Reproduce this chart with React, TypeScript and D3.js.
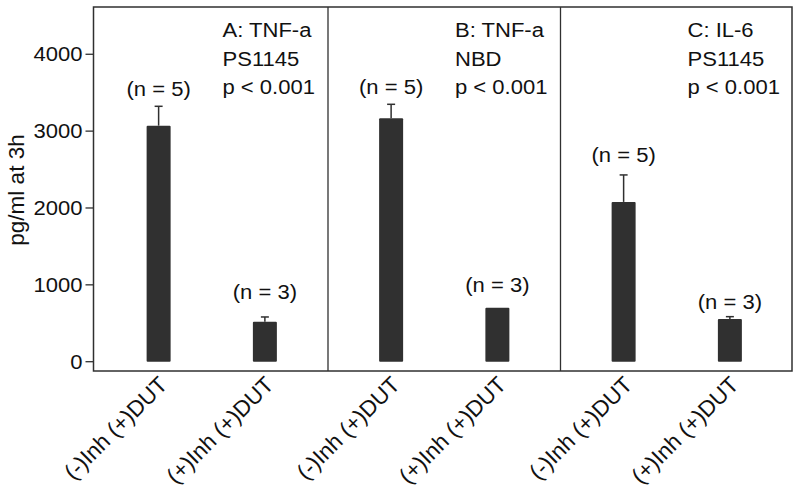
import React from "react";
import * as d3 from "d3";

const panels = ["A", "B", "C"];
const panelTitles = ["A: TNF-a", "B: TNF-a", "C: IL-6"];
const panelAgents = ["PS1145", "NBD", "PS1145"];
const panelP = ["p < 0.001", "p < 0.001", "p < 0.001"];
const categories = ["(-)Inh (+)DUT", "(+)Inh (+)DUT"];
const means = [
  [3071, 520],
  [3167, 703],
  [2079, 556],
];
const errors = [
  [252, 62],
  [182, 0],
  [351, 30],
];
const nLabels = [
  ["(n = 5)", "(n = 3)"],
  ["(n = 5)", "(n = 3)"],
  ["(n = 5)", "(n = 3)"],
];
const nLabelValues = [
  [3457, 816],
  [3477, 907],
  [2599, 686],
];
const yTicks = [0, 1000, 2000, 3000, 4000];
const yTitle = "pg/ml at 3h";

const W = 800;
const H = 490;
const left = 93.5;
const right = 792;
const top = 7;
const bottom = 371;
const FONT = "'Liberation Sans', Arial, sans-serif";
const INK = "#303030";
const SX = 1.13;

export default function App() {
  const y = d3.scaleLinear().domain([-121, 4615]).range([bottom, top]);
  const px = d3.scaleBand<string>().domain(panels).range([left + 2, right + 1]).padding(0);
  const bx = d3
    .scalePoint<string>()
    .domain(categories)
    .range([0, px.bandwidth()])
    .padding(0.594);
  const barW = 24;

  return (
    <svg
      width={W}
      height={H}
      style={{ position: "absolute", left: 0, top: 0, background: "#fff" }}
      fontFamily={FONT}
    >
      <rect x={0} y={0} width={W} height={H} fill="#fff" />
      {yTicks.map((t) => (
        <g key={t}>
          <line x1={left - 8} x2={left} y1={y(t)} y2={y(t)} stroke={INK} strokeWidth={1.3} />
          <text
            transform={`translate(${left - 11},${y(t)}) scale(${SX},1)`}
            textAnchor="end"
            dominantBaseline="central"
            fontSize={19.5}
            fill="#111"
          >
            {t}
          </text>
        </g>
      ))}
      <text
        transform={`translate(24,190) rotate(-90)`}
        textAnchor="middle"
        fontSize={22.5}
        fill="#111"
      >
        {yTitle}
      </text>

      {panels.map((p, pi) => {
        const x0 = px(p)!;
        return (
          <g key={p}>
            {categories.map((c, ci) => {
              const cx = x0 + bx(c)!;
              const m = means[pi][ci];
              const e = errors[pi][ci];
              return (
                <g key={c}>
                  <rect
                    x={cx - barW / 2}
                    y={y(m)}
                    width={barW}
                    height={y(0) - y(m)}
                    fill={INK}
                    rx={1}
                  />
                  {e > 0 && (
                    <g stroke={INK} strokeWidth={1.5}>
                      <line x1={cx} x2={cx} y1={y(m)} y2={y(m + e)} />
                      <line x1={cx - 4} x2={cx + 4} y1={y(m + e)} y2={y(m + e)} />
                    </g>
                  )}
                  <text
                    transform={`translate(${cx},${y(nLabelValues[pi][ci])}) scale(${SX},1)`}
                    textAnchor="middle"
                    fontSize={19.5}
                    fill="#111"
                  >
                    {nLabels[pi][ci]}
                  </text>
                  <text
                    transform={`translate(${cx + 10},${bottom + 15}) rotate(-45)`}
                    textAnchor="end"
                    fontSize={22.5}
                    fill="#111"
                  >
                    {c}
                  </text>
                </g>
              );
            })}
            {[panelTitles[pi], panelAgents[pi], panelP[pi]].map((t, li) => (
              <text
                key={li}
                transform={`translate(${x0 + 127},${37 + li * 28.5}) scale(${SX},1)`}
                fontSize={19.5}
                fill="#111"
              >
                {t}
              </text>
            ))}
            {pi > 0 && (
              <line x1={x0} x2={x0} y1={top} y2={bottom} stroke={INK} strokeWidth={1.3} />
            )}
          </g>
        );
      })}
      <rect
        x={left}
        y={top}
        width={right - left}
        height={bottom - top}
        fill="none"
        stroke={INK}
        strokeWidth={1.5}
      />
    </svg>
  );
}
